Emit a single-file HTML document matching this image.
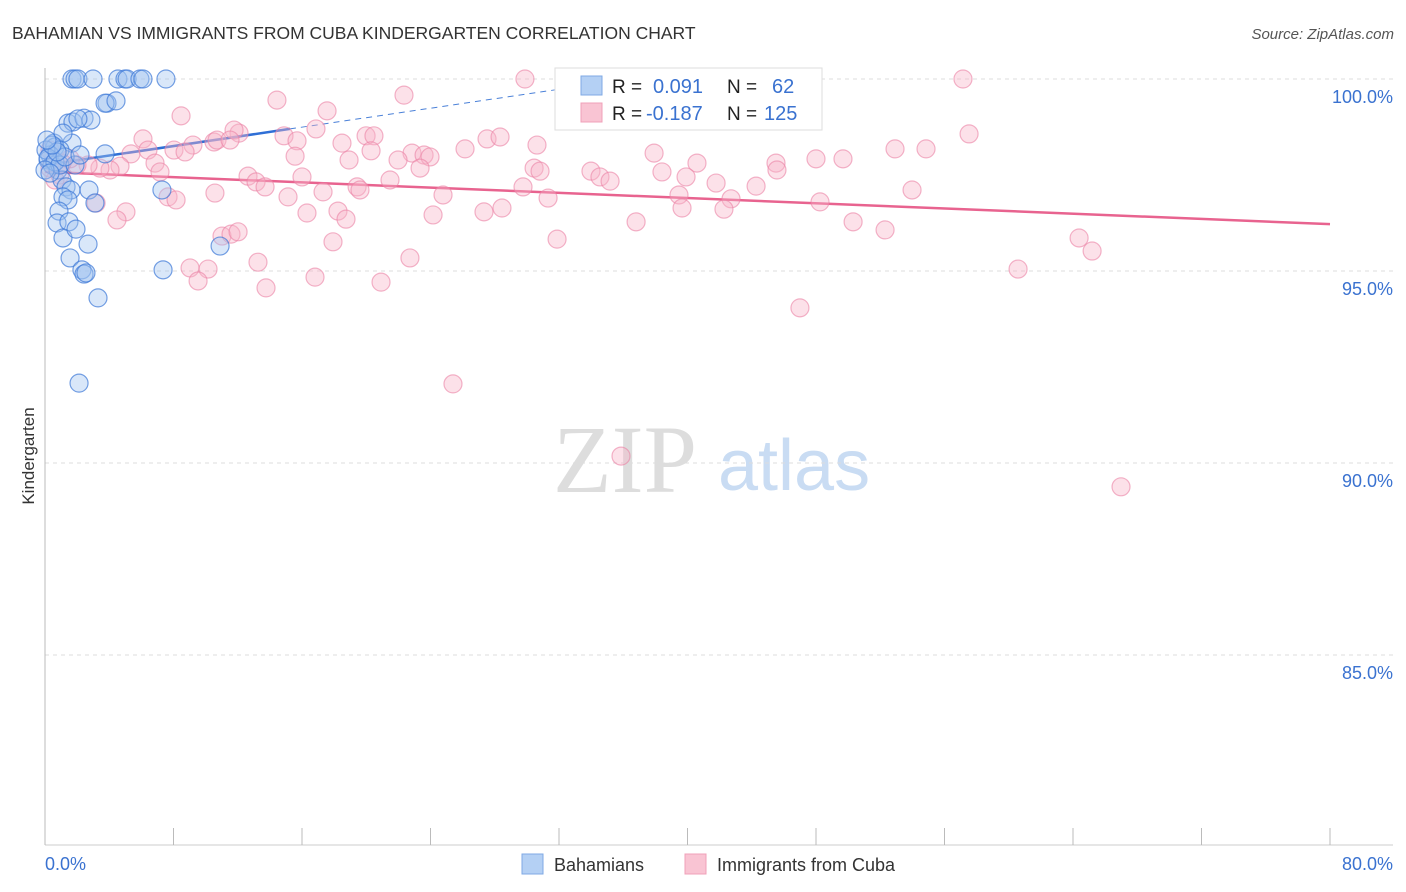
<!DOCTYPE html>
<html><head><meta charset="utf-8"><style>
body{margin:0;background:#fff;font-family:"Liberation Sans",sans-serif;}
svg{display:block}
</style></head><body>
<svg width="1406" height="892" viewBox="0 0 1406 892">
<text x="12" y="39" font-size="17.5" fill="#333">BAHAMIAN VS IMMIGRANTS FROM CUBA KINDERGARTEN CORRELATION CHART</text>
<text x="1394" y="39" font-size="15" fill="#555" font-style="italic" text-anchor="end">Source: ZipAtlas.com</text>
<text x="34" y="456" font-size="17" fill="#333" text-anchor="middle" transform="rotate(-90 34 456)">Kindergarten</text>
<g>
<text x="553" y="492" font-size="96" font-family="Liberation Serif,serif" fill="#ddd">ZIP</text>
<text x="718" y="490" font-size="72" fill="#c9dcf3">atlas</text>
</g>
<g id="grid"></g>
<g id="axes"></g>
<g id="trend"></g>
<g id="pts"></g>
<g>
<rect x="555" y="68" width="267" height="62" fill="#fff" stroke="#ddd"/>
<rect x="581" y="76" width="21" height="19" fill="#b4d0f4" stroke="#7fa9e4"/>
<rect x="581" y="103" width="21" height="19" fill="#f9c4d3" stroke="#f0a0b8"/>
<text x="612" y="93" font-size="19" fill="#222">R =</text>
<text x="653" y="93" font-size="20" fill="#3a72d0">0.091</text>
<text x="727" y="93" font-size="19" fill="#222">N =</text>
<text x="772" y="93" font-size="20" fill="#3a72d0">62</text>
<text x="612" y="120" font-size="19" fill="#222">R =</text>
<text x="646" y="120" font-size="20" fill="#3a72d0">-0.187</text>
<text x="727" y="120" font-size="19" fill="#222">N =</text>
<text x="764" y="120" font-size="20" fill="#3a72d0">125</text>
</g>
<g>
<rect x="522" y="854" width="21" height="20" fill="#b4d0f4" stroke="#7fa9e4"/>
<text x="554" y="871" font-size="18" fill="#333">Bahamians</text>
<rect x="685" y="854" width="21" height="20" fill="#f9c4d3" stroke="#f0a0b8"/>
<text x="717" y="871" font-size="18" fill="#333">Immigrants from Cuba</text>
</g>
</svg>
<script>
const yTicks=[100,95,90,85];
const xTickLabels=["0.0%","80.0%"];
const blueX=[1.68,1.87,2.05,2.99,4.54,4.98,5.11,5.91,6.1,7.53,3.86,3.74,4.42,1.43,1.74,2.43,2.86,2.05,0.56,0.62,1.68,1.12,0.93,0.31,0.19,0.44,0.81,3.74,1.06,1.31,1.62,1.12,1.43,0.87,2.74,7.28,3.11,0.75,1.49,1.12,1.93,2.68,10.9,1.56,2.3,2.43,2.55,7.35,3.3,2.12,0.06,0.19,0.62,0.93,0,0.31,1.87,1.25,0.75,2.18,0.44,0.12];
const blueY=[100,100,100,100,100,100,100,100,100,100,99.37,99.37,99.43,98.85,98.88,98.98,98.93,98.96,98.33,98.23,98.33,98.59,98.15,98.02,97.89,97.76,97.63,98.05,97.37,97.19,97.11,96.93,96.85,96.56,97.11,97.11,96.77,96.25,96.28,95.86,96.09,95.70,95.65,95.34,95.03,94.92,94.95,95.03,94.3,92.08,98.15,97.94,97.84,97.76,97.63,97.55,97.76,97.97,98.1,98.02,98.28,98.41];
const pinkX=[14.44,17.56,22.35,29.88,36.3,57.15,8.47,57.53,6.1,12.08,11.77,14.88,15.69,16.87,19.99,20.48,18.49,20.3,27.52,28.33,30.63,26.15,22.85,23.6,23.97,37.92,40.59,45.51,48.0,49.68,52.92,54.85,9.21,10.52,10.71,11.52,8.03,8.72,15.57,18.93,21.98,23.35,30.45,30.82,33.99,34.55,35.18,38.41,39.91,41.78,44.27,45.57,5.35,6.41,6.85,7.16,4.67,4.05,3.42,2.68,1.99,1.56,12.64,13.14,13.7,16.0,15.13,17.31,19.43,19.61,21.48,24.78,29.76,31.32,39.47,42.71,48.25,53.98,10.58,7.66,8.16,16.31,18.24,18.74,24.16,27.33,28.45,39.66,42.27,3.18,5.04,4.48,11.02,11.58,12.02,17.93,31.88,36.8,50.31,52.3,64.38,65.19,9.03,10.15,13.26,22.72,9.53,13.76,16.81,20.92,60.58,47.0,25.4,35.86,66.99,0.93,0.31,0.62,0.31,1.06];
const pinkY=[99.45,99.17,99.58,100,100,100,99.04,98.57,98.44,98.59,98.67,98.52,98.39,98.7,98.52,98.52,98.33,98.13,98.44,98.49,98.28,98.18,98.07,98.02,97.97,98.07,97.81,97.81,97.92,97.92,98.18,98.18,98.28,98.36,98.41,98.41,98.15,98.1,97.99,97.89,97.89,97.68,97.68,97.6,97.6,97.45,97.34,97.58,97.45,97.29,97.21,97.63,98.05,98.15,97.81,97.58,97.73,97.63,97.68,97.76,97.76,97.92,97.47,97.32,97.19,97.45,96.93,97.06,97.19,97.11,97.37,96.98,97.19,96.9,96.98,96.88,96.8,97.11,97.03,96.93,96.85,96.51,96.56,96.35,96.46,96.54,96.64,96.64,96.61,96.77,96.54,96.33,95.91,95.96,96.02,95.76,95.83,96.28,96.28,96.07,95.86,95.52,95.08,95.05,95.23,95.34,94.74,94.56,94.84,94.71,95.05,94.04,92.06,90.18,89.38,97.5,97.68,97.37,98.15,97.81];
const blueTrend=[0,97.76,15.25,98.7];
const pinkTrend=[0,97.58,80,96.22];
const NS="http://www.w3.org/2000/svg";
const X0=45,X1=1330,XMAX=80;
const sx=v=>X0+v/XMAX*(X1-X0);
const sy=v=>79+(100-v)*38.4;
function mk(t,a,p){const e=document.createElementNS(NS,t);for(const k in a)e.setAttribute(k,a[k]);p.appendChild(e);return e;}
const grid=document.getElementById('grid'),axes=document.getElementById('axes');
yTicks.forEach(v=>{
 const l=mk('line',{x1:X0,x2:1393,y1:sy(v),y2:sy(v),stroke:'#ddd','stroke-dasharray':'4,4'},grid);
 
 
 const t=mk('text',{x:1393,y:sy(v)+24,'font-size':18,fill:'#3a72d0','text-anchor':'end'},axes);
 t.textContent=v.toFixed(1)+'%';
 
 
});
const xa=mk('line',{x1:X0,x2:1393,y1:845,y2:845,stroke:'#ccc'},axes);


const ya=mk('line',{x1:X0,x2:X0,y1:68,y2:845,stroke:'#bbb'},axes);


for(let i=0;i<=10;i++){const tk=mk('line',{x1:sx(i*8),x2:sx(i*8),y1:828,y2:845,stroke:'#bbb'},axes);
 
 }
const xl0=mk('text',{x:45,y:870,'font-size':18,fill:'#3a72d0'},axes);xl0.textContent=xTickLabels[0];


const xl1=mk('text',{x:1393,y:870,'font-size':18,fill:'#3a72d0','text-anchor':'end'},axes);xl1.textContent=xTickLabels[1];


const pts=document.getElementById('pts');
pinkX.forEach((x,i)=>{const c=mk('circle',{cx:sx(x),cy:sy(pinkY[i]),r:9,fill:'rgba(247,180,200,0.4)',stroke:'rgba(235,130,165,0.6)','stroke-width':1.2},pts);
 
 });
blueX.forEach((x,i)=>{const c=mk('circle',{cx:sx(x),cy:sy(blueY[i]),r:9,fill:'rgba(160,195,240,0.4)',stroke:'rgba(60,120,215,0.7)','stroke-width':1.2},pts);
 
 });
const tr=document.getElementById('trend');
const slope=(blueTrend[3]-blueTrend[1])/(blueTrend[2]-blueTrend[0]);
const bd=mk('line',{x1:sx(blueTrend[2]),y1:sy(blueTrend[3]),x2:sx(40),y2:sy(blueTrend[1]+slope*40),stroke:'#4a80d8','stroke-width':1,'stroke-dasharray':'6,5'},tr);


const bl=mk('line',{x1:sx(blueTrend[0]),y1:sy(blueTrend[1]),x2:sx(blueTrend[2]),y2:sy(blueTrend[3]),stroke:'#2f6fd6','stroke-width':2.5},tr);


const pl=mk('line',{x1:sx(pinkTrend[0]),y1:sy(pinkTrend[1]),x2:sx(pinkTrend[2]),y2:sy(pinkTrend[3]),stroke:'#e8638f','stroke-width':2.5},tr);


</script>
</body></html>
